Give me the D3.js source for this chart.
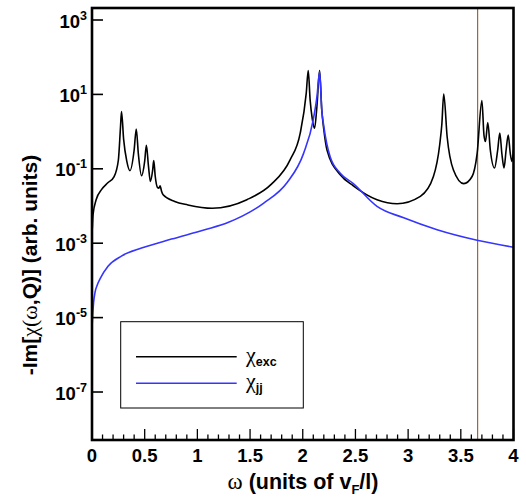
<!DOCTYPE html>
<html><head><meta charset="utf-8">
<script src="https://cdn.jsdelivr.net/npm/d3@7"></script>
<style>body{margin:0;background:#fff}svg{display:block}</style>
</head><body>
<script>
// ---- data ----
const excOmega = [0.003,0.01,0.04,0.09,0.15,0.21,0.25,0.27,0.28,0.30,0.33,0.36,0.40,0.42,0.44,0.47,0.50,0.516,0.535,0.554,0.575,0.586,0.60,0.62,0.635,0.646,0.66,0.675,0.785,0.91,1.14,1.47,1.70,1.88,1.976,2.033,2.052,2.07,2.09,2.112,2.135,2.16,2.18,2.20,2.23,2.356,2.48,2.705,2.895,3.116,3.24,3.30,3.32,3.338,3.37,3.43,3.528,3.607,3.655,3.70,3.72,3.734,3.756,3.78,3.82,3.85,3.87,3.89,3.91,3.93,3.95,3.97,3.985,4.0];
const excValue = [2.5e-3,5.9e-3,1.5e-2,2.75e-2,4.2e-2,6.2e-2,0.17,1.26,3.47,0.63,0.16,8.9e-2,0.32,1.17,0.25,6.5e-2,0.16,0.43,0.126,4.6e-2,8.9e-2,0.166,6.3e-2,3.2e-2,3.0e-2,3.5e-2,2.5e-2,2.0e-2,1.32e-2,1.07e-2,8.7e-3,1.48e-2,3.8e-2,0.174,0.91,10.7,43.7,7.1,2.24,1.23,5.0,43.7,4.0,1.12,0.32,6.9e-2,3.5e-2,1.48e-2,1.15e-2,1.82e-2,6.2e-2,0.45,1.58,10.2,0.74,9.3e-2,4.0e-2,6.2e-2,0.26,6.8,0.79,0.54,1.74,0.32,0.105,0.32,0.91,0.25,0.105,0.32,0.81,0.25,0.158,0.32];
const jjOmega = [0.001,0.006,0.015,0.03,0.05,0.08,0.152,0.279,0.47,0.754,1.07,1.29,1.63,1.85,2.008,2.10,2.135,2.16,2.18,2.20,2.26,2.356,2.48,2.705,2.958,3.275,3.655,4.0];
const jjValue = [6e-6,1.1e-5,2.5e-5,5.0e-5,7.5e-5,1.15e-4,2.4e-4,4.5e-4,7.4e-4,1.29e-3,2.3e-3,3.6e-3,1.2e-2,4.2e-2,0.26,2.1,8.7,40.7,4.0,1.38,0.21,7.6e-2,4.0e-2,9.8e-3,4.8e-3,2.3e-3,1.2e-3,7.8e-4];
const xTicks = [0,0.5,1,1.5,2,2.5,3,3.5,4];
const yTickExps = [3,1,-1,-3,-5,-7];
const markerOmega = 3.66;
const legendLabels = [{sym:"χ", sub:"exc"}, {sym:"χ", sub:"jj"}];

// ---- layout ----
const W = 526, H = 503;
const pL = 92, pR = 513.5, pT = 8, pB = 440;
const svg = d3.select("body").append("svg").attr("width", W).attr("height", H);
const x = d3.scaleLinear().domain([0, 4]).range([pL, pR]);
const y = d3.scaleLog().domain([Math.pow(10, -8.29), Math.pow(10, 3.3226)]).range([pB, pT]);
const font = "'Liberation Sans', Arial, Helvetica, sans-serif";

svg.append("clipPath").attr("id", "clip").append("rect")
  .attr("x", pL).attr("y", pT).attr("width", pR - pL).attr("height", pB - pT);

const line = d3.line().x(d => x(d[0])).y(d => y(d[1])).curve(d3.curveMonotoneX);
const g = svg.append("g").attr("clip-path", "url(#clip)");

g.append("line").attr("x1", x(markerOmega)).attr("x2", x(markerOmega))
  .attr("y1", pT).attr("y2", pB).attr("stroke", "#8a4a10").attr("stroke-width", 1);

g.append("path").datum(d3.zip(excOmega, excValue)).attr("d", line)
  .attr("fill", "none").attr("stroke", "#000").attr("stroke-width", 1.6);
g.append("path").datum(d3.zip(jjOmega, jjValue)).attr("d", line)
  .attr("fill", "none").attr("stroke", "#3535ff").attr("stroke-width", 1.6);

const minor = d3.range(0, 4.0001, 0.1);
svg.append("g").selectAll("line").data(minor).join("line")
  .attr("x1", d => x(d)).attr("x2", d => x(d))
  .attr("y1", pB).attr("y2", d => pB - (Math.abs(d * 2 - Math.round(d * 2)) < 1e-6 ? 11 : 5.5))
  .attr("stroke", "#000").attr("stroke-width", 1.3);
svg.append("g").selectAll("text").data(xTicks).join("text")
  .attr("x", d => x(d)).attr("y", 462).attr("text-anchor", "middle")
  .attr("font-family", font).attr("font-weight", "bold").attr("font-size", 18.5)
  .text(d => d3.format("")(d));

svg.append("g").selectAll("line").data(yTickExps).join("line")
  .attr("x1", pL).attr("x2", pL + 11)
  .attr("y1", d => y(Math.pow(10, d))).attr("y2", d => y(Math.pow(10, d)))
  .attr("stroke", "#000").attr("stroke-width", 1.6);
const yl = svg.append("g").selectAll("text").data(yTickExps).join("text")
  .attr("x", 87).attr("y", d => y(Math.pow(10, d)) + 7.5).attr("text-anchor", "end")
  .attr("font-family", font).attr("font-weight", "bold").attr("font-size", 18.5);
yl.append("tspan").text("10");
yl.append("tspan").attr("dy", -8).attr("font-size", 12.5).text(d => d < 0 ? "-" + (-d) : String(d));

svg.append("rect").attr("x", pL).attr("y", pT).attr("width", pR - pL).attr("height", pB - pT)
  .attr("fill", "none").attr("stroke", "#000").attr("stroke-width", 2.6);

const xt = svg.append("text").attr("x", 303).attr("y", 489).attr("text-anchor", "middle")
  .attr("font-family", font).attr("font-weight", "bold").attr("font-size", 21.5);
xt.append("tspan").attr("font-family", "'Liberation Serif', serif").attr("font-weight", "normal").attr("font-size", 23).text("ω");
xt.append("tspan").text(" (units of v");
xt.append("tspan").attr("dy", 5).attr("font-size", 13).text("F");
xt.append("tspan").attr("dy", -5).text("/l)");

const yt = svg.append("text").attr("transform", "translate(37,265) rotate(-90)").attr("text-anchor", "middle")
  .attr("font-family", font).attr("font-weight", "bold").attr("font-size", 21);
yt.append("tspan").text("-Im[");
yt.append("tspan").attr("font-family", "'Liberation Serif', serif").attr("font-weight", "normal").attr("font-size", 22).text("χ(ω");
yt.append("tspan").text(",Q)] (arb. units)");

svg.append("rect").attr("x", 120.7).attr("y", 321.7).attr("width", 182.6).attr("height", 86.3)
  .attr("fill", "#fff").attr("stroke", "#000").attr("stroke-width", 1);
const colors = ["#000", "#3535ff"];
legendLabels.forEach((l, i) => {
  const ly = 356.7 + i * 26.6;
  svg.append("line").attr("x1", 136).attr("x2", 236.7).attr("y1", ly).attr("y2", ly)
    .attr("stroke", colors[i]).attr("stroke-width", 1.6);
  const t = svg.append("text").attr("x", 246).attr("y", ly + 5).attr("font-family", font);
  t.append("tspan").attr("font-family", "'Liberation Serif', serif").attr("font-size", 22).text(l.sym);
  t.append("tspan").attr("dy", 4).attr("font-weight", "bold").attr("font-size", 12.5).text(l.sub);
});
</script>
</body></html>
